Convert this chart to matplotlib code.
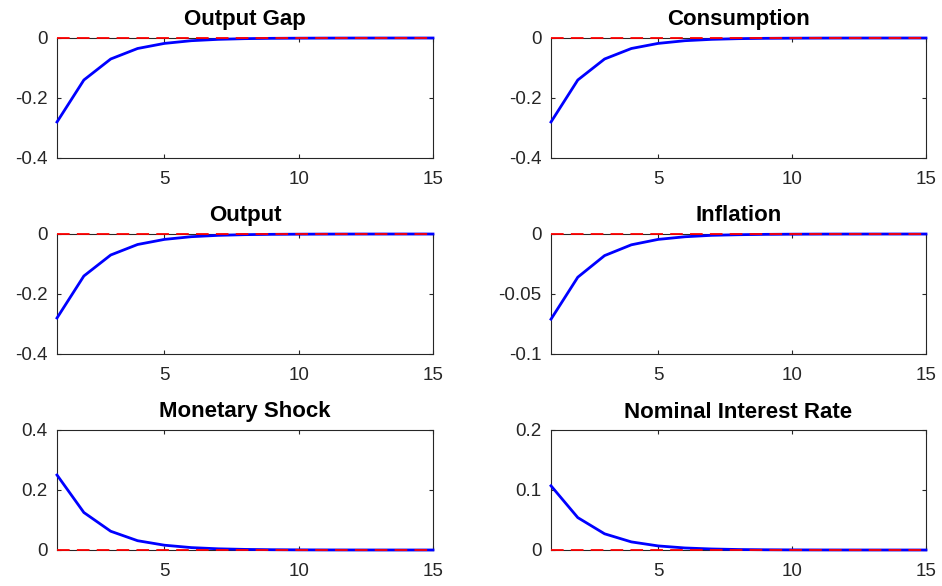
import numpy as np
import matplotlib
matplotlib.use('Agg')
import matplotlib.pyplot as plt

# Impulse responses to a monetary shock, periods 1..15
periods = list(range(1, 16))

output_gap = [-0.28, -0.14, -0.07, -0.035, -0.018, -0.009, -0.0045, -0.0022,
              -0.0011, -0.0006, -0.0003, -0.00015, -0.00008, -0.00004, -0.00002]
consumption = [-0.28, -0.14, -0.07, -0.035, -0.018, -0.009, -0.0045, -0.0022,
               -0.0011, -0.0006, -0.0003, -0.00015, -0.00008, -0.00004, -0.00002]
output = [-0.28, -0.14, -0.07, -0.035, -0.018, -0.009, -0.0045, -0.0022,
          -0.0011, -0.0006, -0.0003, -0.00015, -0.00008, -0.00004, -0.00002]
inflation = [-0.071, -0.036, -0.018, -0.009, -0.0045, -0.0023, -0.0011, -0.0006,
             -0.0003, -0.00015, -0.00007, -0.00004, -0.00002, -0.00001, 0.0]
monetary_shock = [0.25, 0.125, 0.0625, 0.031, 0.016, 0.008, 0.004, 0.002,
                  0.001, 0.0005, 0.00025, 0.00012, 0.00006, 0.00003, 0.00002]
nominal_rate = [0.107, 0.054, 0.027, 0.0135, 0.0068, 0.0034, 0.0017, 0.0008,
                0.0004, 0.0002, 0.0001, 0.00005, 0.00003, 0.00001, 0.0]

titles = ['Output Gap', 'Consumption', 'Output', 'Inflation',
          'Monetary Shock', 'Nominal Interest Rate']
series = [output_gap, consumption, output, inflation, monetary_shock, nominal_rate]
ylims = [(-0.4, 0), (-0.4, 0), (-0.4, 0), (-0.1, 0), (0, 0.4), (0, 0.2)]
yticks = [[-0.4, -0.2, 0], [-0.4, -0.2, 0], [-0.4, -0.2, 0], [-0.1, -0.05, 0],
          [0, 0.2, 0.4], [0, 0.1, 0.2]]
yticklabels = [['-0.4', '-0.2', '0'], ['-0.4', '-0.2', '0'], ['-0.4', '-0.2', '0'],
               ['-0.1', '-0.05', '0'], ['0', '0.2', '0.4'], ['0', '0.1', '0.2']]

plt.rcParams['font.family'] = ['Liberation Sans', 'DejaVu Sans']

fig = plt.figure(figsize=(9.42, 5.86), dpi=100)

W, H = 942, 586
col_left = [57, 551]
col_width = [376, 375]
row_top = [38, 234, 430]
row_height = 120

for i in range(6):
    r, c = divmod(i, 2)
    ax = fig.add_axes([col_left[c] / W, 1 - (row_top[r] + row_height) / H,
                       col_width[c] / W, row_height / H])
    ax.plot(periods, series[i], '-', color='#0000ff', linewidth=2.0,
            zorder=3, clip_on=False)
    ax.plot([1, 15], [0, 0], '--', color='#ff0000', linewidth=1.3,
            dashes=(7, 4), zorder=4, clip_on=False)
    ax.set_xlim(1, 15)
    ax.set_ylim(*ylims[i])
    ax.set_xticks([5, 10, 15])
    ax.set_yticks(yticks[i])
    ax.set_yticklabels(yticklabels[i])
    ax.tick_params(direction='in', top=True, right=True, length=3,
                   labelsize=13.5, colors='#262626', width=0.8)
    ax.tick_params(axis='x', pad=9)
    ax.tick_params(axis='y', pad=7)
    for s in ax.spines.values():
        s.set_color('#262626')
        s.set_linewidth(0.8)
    ax.set_title(titles[i], fontsize=16, fontweight='bold', color='black', pad=9)

plt.savefig('out.png', dpi=100)
plt.close()
